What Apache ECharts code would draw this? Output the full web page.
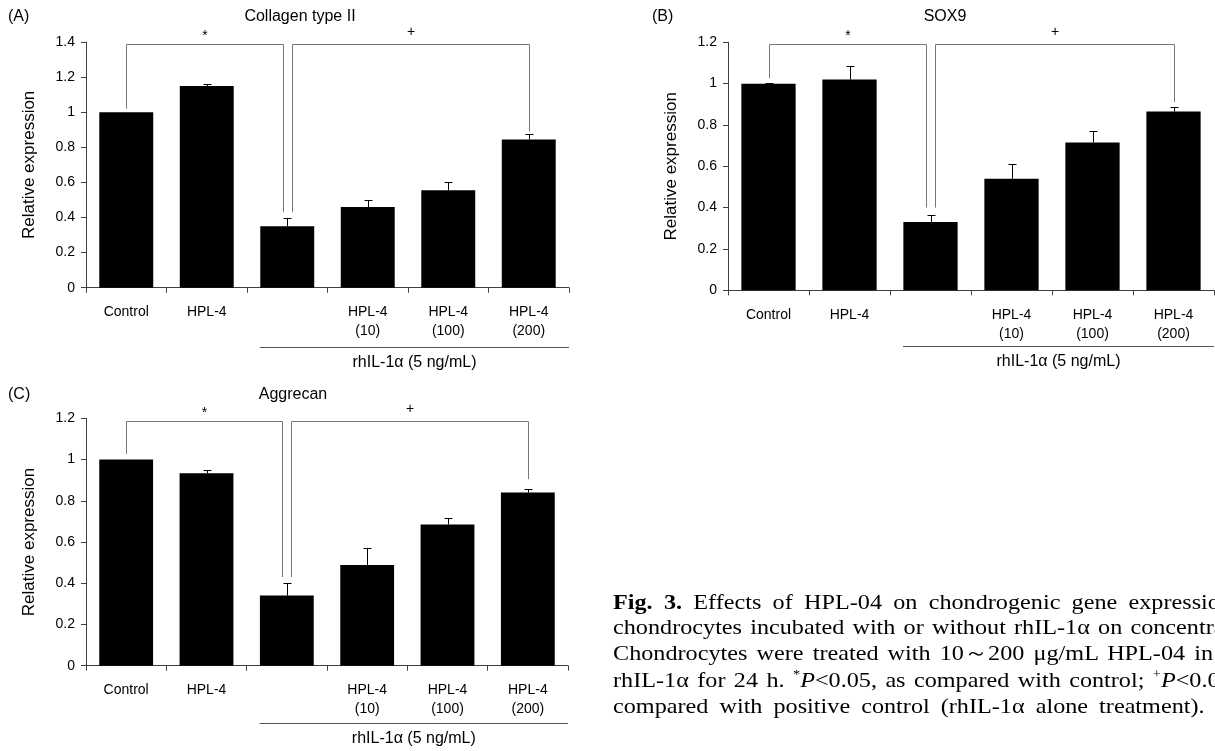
<!DOCTYPE html>
<html>
<head>
<meta charset="utf-8">
<script src="https://cdn.jsdelivr.net/npm/echarts@6/dist/echarts.min.js"></script>
<style>
html,body{margin:0;padding:0;background:#fff;overflow:hidden;width:1215px;height:751px}
#chart{position:absolute;left:0;top:0;width:1215px;height:751px}
#caption{position:absolute;left:613px;top:0;width:700px;height:751px;font-family:"Liberation Serif","Times New Roman",serif;font-size:22px;color:#000;transform:scaleX(1.1);transform-origin:0 0}
.cl{position:absolute;left:0;white-space:nowrap;display:inline-block;line-height:26px}
.cl sup{font-size:13px;vertical-align:9px;line-height:0}
</style>
</head>
<body>
<div id="chart"></div>
<div id="caption">
<div class="cl" style="top:589px" data-end="1232"><b>Fig. 3.</b> Effects of HPL-04 on chondrogenic gene expression</div>
<div class="cl" style="top:614px" data-end="1268">chondrocytes incubated with or without rhIL-1α on concentration.</div>
<div class="cl" style="top:640px" data-end="1213">Chondrocytes were treated with 10～200 μg/mL HPL-04 in</div>
<div class="cl" style="top:667px" data-end="1238">rhIL-1α for 24 h. <sup>*</sup><i>P</i>&lt;0.05, as compared with control; <sup>+</sup><i>P</i>&lt;0.05,</div>
<div class="cl" style="top:693px" data-end="1205">compared with positive control (rhIL-1α alone treatment).</div>
</div>
<script>
// ---------- data ----------
const categories = ['Control', 'HPL-4', '', 'HPL-4\n(10)', 'HPL-4\n(100)', 'HPL-4\n(200)'];

const collagenMean = [1.00, 1.15, 0.35, 0.46, 0.555, 0.845];
const collagenErr  = [0, 0.01, 0.045, 0.04, 0.05, 0.03];
const collagenTicks = [0, 0.2, 0.4, 0.6, 0.8, 1, 1.2, 1.4];
// [fromCategory, toCategory, bracketLevel, dropEndAtFrom, dropEndAtTo]
const collagenBrackets = [[0, 2, 1.39, 1.02, 0.43], [2, 5, 1.39, 0.43, 0.89]];

const sox9Mean = [1.00, 1.02, 0.33, 0.54, 0.715, 0.865];
const sox9Err  = [0.004, 0.065, 0.035, 0.07, 0.055, 0.02];
const sox9Ticks = [0, 0.2, 0.4, 0.6, 0.8, 1, 1.2];
const sox9Brackets = [[0, 2, 1.19, 1.026, 0.40], [2, 5, 1.19, 0.40, 0.91]];

const aggrecanMean = [1.00, 0.933, 0.34, 0.488, 0.685, 0.84];
const aggrecanErr  = [0, 0.015, 0.06, 0.085, 0.03, 0.018];
const aggrecanTicks = [0, 0.2, 0.4, 0.6, 0.8, 1, 1.2];
const aggrecanBrackets = [[0, 2, 1.185, 1.027, 0.43], [2, 5, 1.185, 0.43, 0.905]];

const bracketSymbols = ['*', '+'];
const groupSpan = [[2, 5]];
const groupLabel = 'rhIL-1α (5 ng/mL)';
const panelTitles = ['Collagen type II', 'SOX9', 'Aggrecan'];
const panelLetters = ['(A)', '(B)', '(C)'];
const yName = 'Relative expression';

// ---------- styles / layout ----------
const FONT = '"Liberation Sans", Arial, sans-serif';
const grids = [
  {left: 86, top: 42, width: 483, height: 245.7},
  {left: 728, top: 42.3, width: 486, height: 248},
  {left: 86, top: 418.3, width: 482, height: 247.4}
];
const bracketOffsets = [[0, -4.5], [4.5, 0]];
const groupLineOffset = [59, 55.5, 57];
const panels = [
  {mean: collagenMean, err: collagenErr, ticks: collagenTicks, brackets: collagenBrackets},
  {mean: sox9Mean, err: sox9Err, ticks: sox9Ticks, brackets: sox9Brackets},
  {mean: aggrecanMean, err: aggrecanErr, ticks: aggrecanTicks, brackets: aggrecanBrackets}
];

const chart = echarts.init(document.getElementById('chart'), null, {renderer: 'canvas'});

const xAxes = [], yAxes = [], series = [];
panels.forEach((p, gi) => {
  xAxes.push({
    type: 'category', gridIndex: gi, data: categories,
    axisLine: {lineStyle: {color: '#404040', width: 1}},
    axisTick: {show: true, length: 5, inside: false, lineStyle: {color: '#404040'}},
    axisLabel: {interval: 0, color: '#000', fontSize: 14, fontFamily: FONT, lineHeight: 19, margin: 15}
  });
  yAxes.push({
    type: 'value', gridIndex: gi,
    min: p.ticks[0], max: p.ticks[p.ticks.length - 1], interval: p.ticks[1] - p.ticks[0],
    name: yName, nameLocation: 'middle', nameRotate: 90, nameGap: 48,
    nameTextStyle: {color: '#000', fontSize: 17, fontFamily: FONT},
    axisLine: {show: true, lineStyle: {color: '#404040', width: 1}},
    axisTick: {show: true, length: 5, lineStyle: {color: '#404040'}},
    axisLabel: {color: '#000', fontSize: 14, fontFamily: FONT, margin: 11},
    splitLine: {show: false}
  });
  series.push({
    type: 'bar', xAxisIndex: gi, yAxisIndex: gi, data: p.mean,
    barWidth: '67%', itemStyle: {color: '#000'}, z: 2
  });
  // error bars (upper only)
  series.push({
    type: 'custom', xAxisIndex: gi, yAxisIndex: gi, z: 3,
    encode: {x: 0, y: 1},
    data: p.mean.map((m, i) => [i, m, p.err[i]]),
    renderItem: function (params, api) {
      const i = api.value(0), m = api.value(1), e = api.value(2);
      if (!(e > 0)) return null;
      const p0 = api.coord([i, m]), p1 = api.coord([i, m + e]);
      const x = Math.round(p0[0]) + 0.5;
      const yTop = Math.round(p1[1]) + 0.5;
      return {type: 'group', children: [
        {type: 'line', shape: {x1: x, y1: p0[1], x2: x, y2: yTop}, style: {stroke: '#000', lineWidth: 1}},
        {type: 'line', shape: {x1: x - 4, y1: yTop, x2: x + 4, y2: yTop}, style: {stroke: '#000', lineWidth: 1}}
      ]};
    }
  });
  // significance brackets
  series.push({
    type: 'custom', xAxisIndex: gi, yAxisIndex: gi, z: 4,
    encode: {x: 0, y: 2},
    data: p.brackets,
    renderItem: function (params, api) {
      const a = api.value(0), b = api.value(1), lv = api.value(2), da = api.value(3), db = api.value(4);
      const off = bracketOffsets[params.dataIndex];
      const pa = api.coord([a, lv]), pb = api.coord([b, lv]);
      const ya = api.coord([a, da])[1], yb = api.coord([b, db])[1];
      const xa = Math.round(pa[0] + off[0]) + 0.5, xb = Math.round(pb[0] + off[1]) + 0.5;
      const yl = Math.round(pa[1]) + 0.5;
      const sym = bracketSymbols[params.dataIndex];
      return {type: 'group', children: [
        {type: 'polyline', shape: {points: [[xa, ya], [xa, yl], [xb, yl], [xb, yb]]},
          style: {stroke: '#777', lineWidth: 1, fill: null}},
        {type: 'text', x: (xa + xb) / 2, y: yl - (sym === '*' ? 8 : 12),
          style: {text: sym, align: 'center', verticalAlign: 'middle', fill: '#000',
            font: '14px ' + FONT}}
      ]};
    }
  });
  // group underline + label
  series.push({
    type: 'custom', xAxisIndex: gi, yAxisIndex: gi, z: 4,
    encode: {x: 0},
    data: groupSpan,
    renderItem: function (params, api) {
      const a = api.value(0), b = api.value(1);
      const c0 = api.coord([a, 0]), c1 = api.coord([b, 0]);
      const band = api.size([1, 0])[0];
      const x1 = c0[0] - band / 2 + 13, x2 = c1[0] + band / 2;
      const y = Math.round(c0[1] + groupLineOffset[gi]) + 0.5;
      return {type: 'group', children: [
        {type: 'line', shape: {x1: x1, y1: y, x2: x2, y2: y}, style: {stroke: '#555', lineWidth: 1.2}},
        {type: 'text', x: (x1 + x2) / 2, y: y + 15,
          style: {text: groupLabel, align: 'center', verticalAlign: 'middle', fill: '#000',
            font: '16px ' + FONT}}
      ]};
    }
  });
});

const titlePos = [[300, 17], [945, 17], [293, 395]];
const letterPos = [[8, 17], [652, 17], [8, 395]];
const graphic = [];
panelTitles.forEach((t, i) => {
  graphic.push({type: 'text', x: titlePos[i][0], y: titlePos[i][1],
    style: {text: t, align: 'center', verticalAlign: 'middle', fill: '#000', font: '16px ' + FONT}});
  graphic.push({type: 'text', x: letterPos[i][0], y: letterPos[i][1],
    style: {text: panelLetters[i], align: 'left', verticalAlign: 'middle', fill: '#000', font: '16px ' + FONT}});
});

chart.setOption({
  animation: false,
  backgroundColor: '#fff',
  textStyle: {fontFamily: FONT},
  grid: grids.map(g => Object.assign({containLabel: false}, g)),
  xAxis: xAxes,
  yAxis: yAxes,
  series: series,
  graphic: graphic
});

// justify caption lines to their measured extents
document.querySelectorAll('.cl').forEach(el => {
  const target = (parseFloat(el.dataset.end) - 613) / 1.1;
  const nat = el.offsetWidth;
  const spaces = (el.textContent.match(/ /g) || []).length;
  if (spaces > 0) el.style.wordSpacing = ((target - nat) / spaces) + 'px';
});
</script>
</body>
</html>
